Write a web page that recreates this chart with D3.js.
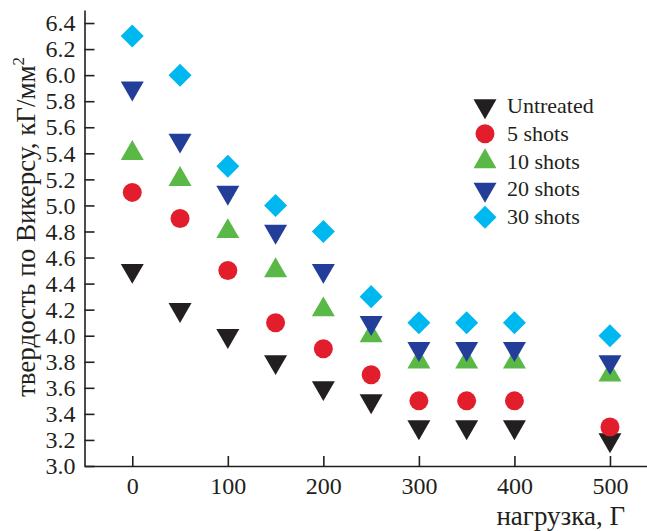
<!DOCTYPE html>
<html>
<head>
<meta charset="utf-8">
<script src="https://cdn.jsdelivr.net/npm/d3@7"></script>
<style>
  body { margin: 0; background: #fff; }
  svg { display: block; }
  text { font-family: "Liberation Serif", "Times New Roman", serif; fill: #231f20; }
</style>
</head>
<body>
<div id="chart"></div>
<script>
var loads = [0, 50, 100, 150, 200, 250, 300, 350, 400, 500];

var untreated = [4.5, 4.2, 4.0, 3.8, 3.6, 3.5, 3.3, 3.3, 3.3, 3.2];
var shots5    = [5.1, 4.9, 4.5, 4.1, 3.9, 3.7, 3.5, 3.5, 3.5, 3.3];
var shots10   = [5.4, 5.2, 4.8, 4.5, 4.2, 4.0, 3.8, 3.8, 3.8, 3.7];
var shots20   = [5.9, 5.5, 5.1, 4.8, 4.5, 4.1, 3.9, 3.9, 3.9, 3.8];
var shots30   = [6.3, 6.0, 5.3, 5.0, 4.8, 4.3, 4.1, 4.1, 4.1, 4.0];

var seriesNames = ["Untreated", "5 shots", "10 shots", "20 shots", "30 shots"];
var xTicks = [0, 100, 200, 300, 400, 500];
var yTicks = [3.0, 3.2, 3.4, 3.6, 3.8, 4.0, 4.2, 4.4, 4.6, 4.8, 5.0, 5.2, 5.4, 5.6, 5.8, 6.0, 6.2, 6.4];

var width = 647, height = 531;
var ink = "#231f20";

var series = [
  {name: seriesNames[0], values: untreated, color: "#231f20", shape: "down"},
  {name: seriesNames[1], values: shots5,    color: "#e31e2c", shape: "circle"},
  {name: seriesNames[2], values: shots10,   color: "#5ab946", shape: "up"},
  {name: seriesNames[3], values: shots20,   color: "#233e99", shape: "down"},
  {name: seriesNames[4], values: shots30,   color: "#00b8f0", shape: "diamond"}
];

var svg = d3.select("#chart").append("svg")
  .attr("width", width)
  .attr("height", height);

var x = d3.scaleLinear().domain([-50, 540]).range([84.5, 84.5 + 590 * 0.9554]);
var y = d3.scaleLinear().domain([3.0, 6.5]).range([466, 10]);

// symbols
function symbolPath(shape) {
  if (shape == "circle") return d3.symbol(d3.symbolCircle, 283)();
  if (shape == "diamond") return d3.symbol(d3.symbolSquare, 265)();
  return d3.symbol(d3.symbolTriangle, 229)();
}
function symbolRotate(shape) {
  if (shape == "down") return " rotate(180)";
  if (shape == "diamond") return " rotate(45)";
  return "";
}

function styleAxis(g) {
  g.select(".domain").attr("stroke", ink).attr("stroke-width", 1.6);
  g.selectAll(".tick line").attr("stroke", ink).attr("stroke-width", 1.6);
  g.selectAll(".tick text").attr("font-size", 24).attr("fill", ink)
    .attr("font-family", "Liberation Serif, serif");
}

// axes
var xAxis = d3.axisBottom(x).tickValues(xTicks).tickSizeInner(-10).tickSizeOuter(0).tickPadding(11)
  .tickFormat(d3.format("d"));
svg.append("g")
  .attr("transform", "translate(0," + y(3.0) + ")")
  .call(xAxis)
  .call(styleAxis);

var yAxis = d3.axisLeft(y).tickValues(yTicks).tickSizeInner(-10).tickSizeOuter(0).tickPadding(9)
  .tickFormat(d3.format(".1f"));
svg.append("g")
  .attr("transform", "translate(" + x(-50) + ",0)")
  .call(yAxis)
  .call(styleAxis);

// points
series.forEach(function(s) {
  svg.append("g").selectAll("path")
    .data(s.values)
    .enter().append("path")
    .attr("d", symbolPath(s.shape))
    .attr("fill", s.color)
    .attr("transform", function(d, i) {
      return "translate(" + x(loads[i]) + "," + y(d) + ")" + symbolRotate(s.shape);
    });
});

// legend
var legend = svg.append("g").attr("transform", "translate(485,106)");
series.forEach(function(s, i) {
  legend.append("path")
    .attr("d", symbolPath(s.shape))
    .attr("fill", s.color)
    .attr("transform", "translate(0," + (i * 27.8) + ")" + symbolRotate(s.shape));
  legend.append("text")
    .attr("x", 22)
    .attr("y", i * 27.8 + 7)
    .attr("font-size", 22)
    .text(s.name);
});

// axis titles
svg.append("text")
  .attr("x", 625)
  .attr("y", 525)
  .attr("text-anchor", "end")
  .attr("font-size", 27)
  .text("нагрузка, Г");

var yTitle = svg.append("text")
  .attr("transform", "translate(35,227) rotate(-90)")
  .attr("text-anchor", "middle")
  .attr("font-size", 27);
yTitle.append("tspan").text("твердость по Викерсу, кГ/мм");
yTitle.append("tspan").attr("font-size", 17).attr("dy", -11).text("2");
</script>
</body>
</html>
